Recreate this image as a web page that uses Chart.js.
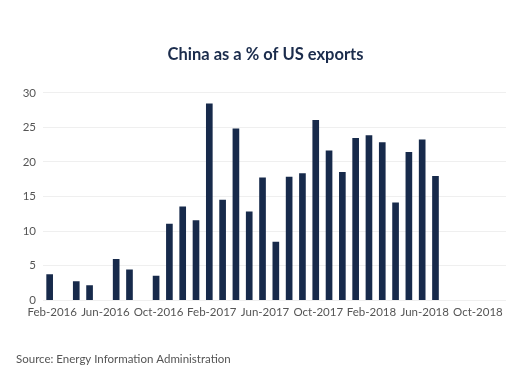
<!DOCTYPE html>
<html>
<head>
<meta charset="utf-8">
<script src="https://cdn.jsdelivr.net/npm/chart.js@4/dist/chart.umd.min.js"></script>
<style>
  html, body { margin: 0; padding: 0; background: #ffffff; overflow: hidden; }
  #wrap { width: 506px; height: 367px; }
</style>
</head>
<body>
<div id="wrap"><canvas id="c" width="506" height="367"></canvas></div>
<script>
const months = ["Feb-2016","Mar-2016","Apr-2016","May-2016","Jun-2016","Jul-2016","Aug-2016","Sep-2016","Oct-2016","Nov-2016","Dec-2016","Jan-2017",
  "Feb-2017","Mar-2017","Apr-2017","May-2017","Jun-2017","Jul-2017","Aug-2017","Sep-2017","Oct-2017","Nov-2017","Dec-2017","Jan-2018",
  "Feb-2018","Mar-2018","Apr-2018","May-2018","Jun-2018","Jul-2018","Aug-2018","Sep-2018","Oct-2018"];
const chinaShare = [3.7,null,2.7,2.1,null,5.9,4.4,null,3.5,11.0,13.5,11.5,
  28.4,14.5,24.8,12.8,17.7,8.4,17.8,18.3,26.0,21.6,18.5,23.4,
  23.8,22.8,14.1,21.4,23.2,17.9,null,null,null];
const tickMonths = ["Feb-2016","Jun-2016","Oct-2016","Feb-2017","Jun-2017","Oct-2017","Feb-2018","Jun-2018","Oct-2018"];
const yTicks = [0,5,10,15,20,25,30];
const titleText = "China as a % of US exports";
const sourceText = "Source: Energy Information Administration";

const points = months.map((m, i) => ({ x: i, y: chinaShare[i] }));

new Chart(document.getElementById('c'), {
  type: 'bar',
  data: {
    datasets: [{
      data: points,
      backgroundColor: '#172a4b',
      barThickness: 6,
      borderWidth: 0
    }]
  },
  options: {
    responsive: false,
    animation: false,
    layout: { padding: { top: 45, left: 16, right: -9, bottom: 1 } },
    plugins: {
      legend: { display: false },
      tooltip: { enabled: false },
      title: {
        display: true,
        text: titleText,
        color: '#1b2c4c',
        font: { family: 'Lato', size: 16.5, weight: 'bold' },
        padding: { top: 0, bottom: 28 }
      },
      subtitle: {
        display: true,
        text: sourceText,
        position: 'bottom',
        align: 'start',
        color: '#555555',
        font: { family: 'Lato', size: 11.5 },
        padding: { top: 32, bottom: 0 }
      }
    },
    scales: {
      x: {
        type: 'linear',
        min: -0.5,
        max: 34.3,
        offset: false,
        grid: { display: false, drawTicks: false, offset: false },
        border: { display: false },
        afterBuildTicks: (scale) => {
          scale.ticks = tickMonths.map(t => ({ value: months.indexOf(t) }));
        },
        afterFit: (scale) => {
          scale.height = 20;
          scale.paddingLeft = 0;
          scale.paddingRight = 0;
        },
        ticks: {
          autoSkip: false,
          maxRotation: 0,
          padding: 5,
          labelOffset: 2.5,
          color: '#555555',
          font: { family: 'Lato', size: 11.5 },
          callback: (v) => months[v]
        }
      },
      y: {
        min: 0,
        max: 30,
        afterBuildTicks: (scale) => {
          scale.ticks = yTicks.map(v => ({ value: v }));
        },
        afterFit: (scale) => {
          scale.width = 27;
          scale.paddingTop = 0;
          scale.paddingBottom = 0;
        },
        grid: { color: '#efefef', drawTicks: false },
        border: { display: false },
        ticks: {
          padding: 7,
          color: '#555555',
          font: { family: 'Lato', size: 11.5 }
        }
      }
    }
  }
});
</script>
</body>
</html>
